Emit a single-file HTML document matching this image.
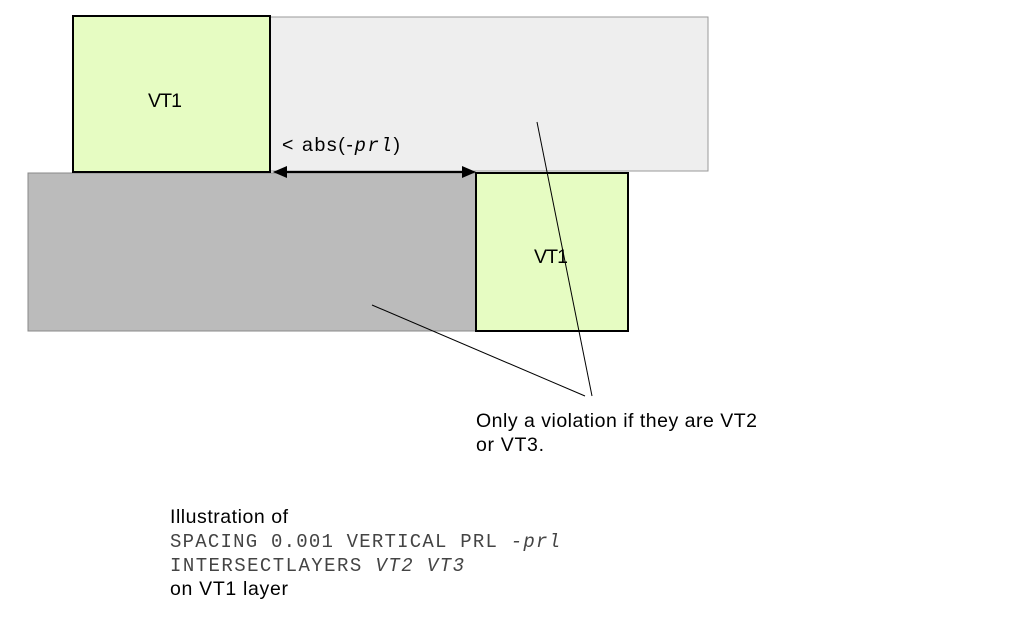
<!DOCTYPE html>
<html><head><meta charset="utf-8"><style>
html,body{margin:0;padding:0;background:#fff;}
svg{display:block}
.s{font-family:"Liberation Sans",sans-serif;font-size:19.5px;fill:#000}
.m{font-family:"Liberation Mono",monospace;font-size:19px;fill:#444}
</style></head><body>
<svg width="1013" height="631" xmlns="http://www.w3.org/2000/svg">
<rect x="270" y="17" width="438" height="154" fill="#eeeeee" stroke="#999" stroke-width="1"/>
<rect x="28" y="173" width="448" height="158" fill="#bbbbbb" stroke="#888" stroke-width="1"/>
<rect x="73" y="16" width="197" height="156" fill="#e6fcc2" stroke="#000" stroke-width="2"/>
<rect x="476" y="173" width="152" height="158" fill="#e6fcc2" stroke="#000" stroke-width="2"/>
<text class="s" x="148" y="107" textLength="34" lengthAdjust="spacing">VT1</text>
<text class="s" x="534" y="263" textLength="34" lengthAdjust="spacing">VT1</text>
<line x1="285" y1="172" x2="464" y2="172" stroke="#000" stroke-width="2"/>
<polygon points="273,172 287,166 287,178" fill="#000"/>
<polygon points="476,172 462,166 462,178" fill="#000"/>
<text x="282" y="151" class="s" textLength="118" lengthAdjust="spacing">&lt;  abs(-<tspan style="font-family:'Liberation Mono',monospace;font-style:italic;font-size:19px">prl</tspan>)</text>
<line x1="372" y1="305" x2="585" y2="396" stroke="#000" stroke-width="1"/>
<line x1="537" y1="122" x2="592" y2="396" stroke="#000" stroke-width="1"/>
<text class="s" x="476" y="427" textLength="281" lengthAdjust="spacing">Only a violation if they are VT2</text>
<text class="s" x="476" y="451" textLength="68" lengthAdjust="spacing">or VT3.</text>
<text class="s" x="170" y="523" textLength="118" lengthAdjust="spacing">Illustration of</text>
<text class="m" x="170" y="547" textLength="390" lengthAdjust="spacing">SPACING 0.001 VERTICAL PRL <tspan font-style="italic">-prl</tspan></text>
<text class="m" x="170" y="571" textLength="294" lengthAdjust="spacing">INTERSECTLAYERS <tspan font-style="italic">VT2 VT3</tspan></text>
<text class="s" x="170" y="595" textLength="118" lengthAdjust="spacing">on VT1 layer</text>
</svg>
</body></html>
